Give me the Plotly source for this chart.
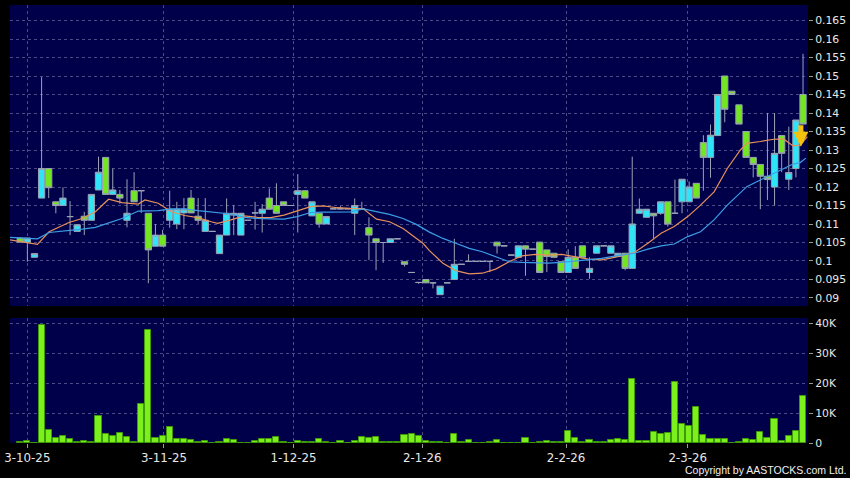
import plotly.graph_objects as go

# ---------------- data ----------------
idx = list(range(111))

opens = [0.1062, 0.1051, 0.1010, 0.1170, 0.1250, 0.1160, 0.1150, 0.1120, 0.1080, 0.1121,
         0.1110, 0.1192, 0.1280, 0.1180, 0.1180, 0.1110, 0.1190, 0.1190, 0.1129, 0.1040,
         0.1070, 0.1110, 0.1100, 0.1130, 0.1170, 0.1121, 0.1080, 0.1080, 0.1020, 0.1070,
         0.1124, 0.1070, 0.1110, 0.1130, 0.1129, 0.1170, 0.1150, 0.1160, 0.1150, 0.1180,
         0.1190, 0.1122, 0.1129, 0.1100, 0.1141, 0.1141, 0.1141, 0.1129, 0.1141, 0.1090,
         0.1060, 0.1050, 0.1050, 0.1060, 0.0998, 0.0969, 0.0942, 0.0950, 0.0941, 0.0909,
         0.0941, 0.0950, 0.0991, 0.0999, 0.0999, 0.0999, 0.0999, 0.1051, 0.1041, 0.1016,
         0.1010, 0.1041, 0.1032, 0.1051, 0.1030, 0.1021, 0.0998, 0.0969, 0.1010, 0.1041,
         0.0969, 0.1021, 0.1041, 0.1021, 0.1012, 0.1021, 0.0980, 0.1129, 0.1118, 0.1129,
         0.1129, 0.1160, 0.1129, 0.1160, 0.1160, 0.1210, 0.1320, 0.1280, 0.1339, 0.1500,
         0.1459, 0.1422, 0.1350, 0.1280, 0.1261, 0.1229, 0.1200, 0.1339, 0.1221, 0.1250,
         0.1450]
highs = [0.1062, 0.1062, 0.1020, 0.1497, 0.1250, 0.1160, 0.1199, 0.1162, 0.1098, 0.1133,
         0.1180, 0.1282, 0.1280, 0.1250, 0.1192, 0.1221, 0.1240, 0.1190, 0.1129, 0.1100,
         0.1084, 0.1190, 0.1160, 0.1170, 0.1192, 0.1170, 0.1170, 0.1080, 0.1070, 0.1169,
         0.1151, 0.1129, 0.1110, 0.1160, 0.1154, 0.1196, 0.1210, 0.1160, 0.1150, 0.1235,
         0.1190, 0.1160, 0.1129, 0.1120, 0.1141, 0.1148, 0.1141, 0.1169, 0.1160, 0.1118,
         0.1060, 0.1050, 0.1060, 0.1060, 0.0998, 0.0969, 0.0942, 0.0950, 0.0941, 0.0932,
         0.0941, 0.1060, 0.0991, 0.1018, 0.0999, 0.0999, 0.0999, 0.1051, 0.1041, 0.1016,
         0.1041, 0.1041, 0.1032, 0.1052, 0.1030, 0.1021, 0.0998, 0.1032, 0.1040, 0.1041,
         0.1010, 0.1041, 0.1041, 0.1041, 0.1021, 0.1021, 0.1282, 0.1169, 0.1140, 0.1129,
         0.1160, 0.1160, 0.1220, 0.1221, 0.1215, 0.1210, 0.1340, 0.1369, 0.1450, 0.1500,
         0.1459, 0.1422, 0.1350, 0.1280, 0.1261, 0.1400, 0.1400, 0.1339, 0.1363, 0.1381,
         0.1560]
lows = [0.1051, 0.0998, 0.1010, 0.1170, 0.1170, 0.1129, 0.1150, 0.1070, 0.1080, 0.1070,
        0.1110, 0.1192, 0.1180, 0.1180, 0.1155, 0.1091, 0.1160, 0.1130, 0.0940, 0.1040,
        0.1040, 0.1090, 0.1086, 0.1086, 0.1130, 0.1100, 0.1080, 0.1080, 0.1020, 0.1070,
        0.1070, 0.1070, 0.1110, 0.1085, 0.1077, 0.1140, 0.1129, 0.1150, 0.1150, 0.1077,
        0.1170, 0.1122, 0.1090, 0.1100, 0.1141, 0.1141, 0.1141, 0.1070, 0.1141, 0.1003,
        0.0975, 0.0995, 0.1050, 0.1060, 0.0985, 0.0969, 0.0938, 0.0941, 0.0926, 0.0909,
        0.0941, 0.0950, 0.0991, 0.0999, 0.0999, 0.0999, 0.0970, 0.1020, 0.1041, 0.1016,
        0.1010, 0.0960, 0.1032, 0.0969, 0.0970, 0.1010, 0.0969, 0.0969, 0.0980, 0.1010,
        0.0952, 0.1021, 0.1041, 0.1021, 0.1012, 0.0975, 0.0980, 0.1129, 0.1118, 0.1061,
        0.1125, 0.1093, 0.1129, 0.1129, 0.1160, 0.1170, 0.1190, 0.1225, 0.1339, 0.1375,
        0.1450, 0.1370, 0.1280, 0.1226, 0.1140, 0.1165, 0.1150, 0.1240, 0.1192, 0.1226,
        0.1370]
closes = [0.1051, 0.1062, 0.1020, 0.1250, 0.1198, 0.1150, 0.1170, 0.1120, 0.1098, 0.1110,
          0.1180, 0.1240, 0.1180, 0.1192, 0.1170, 0.1129, 0.1160, 0.1190, 0.1030, 0.1070,
          0.1040, 0.1140, 0.1140, 0.1140, 0.1130, 0.1110, 0.1110, 0.1080, 0.1070, 0.1129,
          0.1129, 0.1129, 0.1110, 0.1130, 0.1140, 0.1140, 0.1129, 0.1150, 0.1150, 0.1190,
          0.1170, 0.1160, 0.1100, 0.1120, 0.1141, 0.1141, 0.1141, 0.1150, 0.1141, 0.1070,
          0.1050, 0.1050, 0.1060, 0.1060, 0.0991, 0.0969, 0.0942, 0.0941, 0.0941, 0.0932,
          0.0941, 0.0991, 0.0991, 0.0999, 0.0999, 0.0999, 0.0999, 0.1041, 0.1041, 0.1016,
          0.1041, 0.1032, 0.1032, 0.0969, 0.1012, 0.1010, 0.0969, 0.1010, 0.0980, 0.1010,
          0.0980, 0.1041, 0.1041, 0.1041, 0.1021, 0.0980, 0.1100, 0.1140, 0.1140, 0.1122,
          0.1160, 0.1100, 0.1129, 0.1221, 0.1200, 0.1170, 0.1280, 0.1340, 0.1450, 0.1410,
          0.1450, 0.1370, 0.1280, 0.1261, 0.1229, 0.1220, 0.1291, 0.1291, 0.1239, 0.1381,
          0.1370]

volume_k = [0.3, 0.7, 0.0, 39.4, 4.4, 1.7, 2.2, 1.3, 0.4, 0.8,
            0.4, 8.9, 2.9, 2.2, 3.3, 2.0, 0.4, 13.0, 37.7, 1.7,
            2.4, 5.3, 1.3, 1.4, 1.0, 0.3, 0.8, 0.1, 0.4, 1.2,
            1.1, 0.1, 0.0, 0.8, 1.4, 1.3, 2.1, 0.4, 0.1, 0.7,
            0.2, 0.3, 1.4, 0.2, 0.0, 0.8, 0.0, 0.8, 2.0, 1.7,
            2.1, 0.3, 0.3, 0.4, 2.6, 3.0, 2.3, 0.6, 0.3, 0.2,
            0.0, 3.1, 0.4, 1.1, 0.1, 0.0, 0.4, 0.9, 0.0, 0.0,
            0.1, 1.8, 0.0, 0.2, 0.7, 0.4, 0.4, 4.0, 1.7, 0.4,
            1.0, 0.3, 0.4, 1.0, 1.4, 1.1, 21.3, 0.8, 0.7, 3.7,
            3.1, 3.2, 20.4, 6.4, 5.6, 12.1, 2.6, 1.2, 1.2, 1.3,
            0.1, 0.4, 1.4, 0.9, 3.8, 1.6, 8.0, 0.7, 2.3, 4.1,
            15.7]

ma_fast_x = [-1.44, 2.42, 4.05, 6.84, 8.7, 10.56, 12.42, 14.28, 16.6, 17.53,
             19.39, 21.25, 23.1, 24.97, 26.83, 27.75, 29.6, 31.5, 33.3, 35.2,
             37.06, 38.9, 40.8, 42.6, 44.5, 46.4, 48.2, 50.07, 51.9, 53.8,
             55.65, 56.58, 57.5, 59.4, 61.2, 63.1, 64.95, 66.8, 68.7, 70.5,
             72.4, 74.25, 76.1, 78.0, 79.8, 81.7, 83.5, 86.3, 88.2, 90.06,
             91.9, 93.8, 95.6, 97.5, 99.36, 101.2, 102.1, 104.0, 105.9, 107.25,
             108.6, 109.6, 110.6]
ma_fast = [0.1057, 0.1045, 0.1079, 0.1104, 0.1115, 0.1133, 0.1167, 0.1158, 0.1154, 0.1165,
           0.1156, 0.1133, 0.1123, 0.1117, 0.1106, 0.1102, 0.1111, 0.1122, 0.1118, 0.1117,
           0.1124, 0.1136, 0.1147, 0.1149, 0.1144, 0.1142, 0.1141, 0.1113, 0.1106, 0.1088,
           0.1063, 0.1048, 0.1028, 0.0994, 0.0974, 0.0965, 0.0967, 0.0978, 0.0998, 0.1014,
           0.1018, 0.1016, 0.1018, 0.1012, 0.1005, 0.1003, 0.1010, 0.1023, 0.1048, 0.1075,
           0.1093, 0.1120, 0.1151, 0.1187, 0.1250, 0.1300, 0.1318, 0.1323, 0.1329, 0.1330,
           0.1311, 0.1313, 0.1336]

ma_slow_x = [-1.44, 2.42, 4.05, 6.84, 8.7, 10.56, 12.42, 14.28, 16.6, 17.53,
             19.39, 21.25, 23.1, 24.97, 26.83, 27.75, 29.6, 31.5, 33.3, 35.2,
             37.06, 38.9, 40.8, 42.6, 44.5, 46.4, 48.2, 50.07, 51.9, 53.8,
             55.65, 57.5, 59.4, 61.2, 63.1, 64.95, 66.8, 68.7, 70.5, 72.4,
             74.25, 76.1, 78.0, 79.8, 81.7, 83.5, 86.3, 88.2, 90.06, 91.9,
             93.8, 95.6, 97.5, 99.36, 101.2, 102.1, 104.0, 105.9, 107.25, 108.6,
             109.6, 110.4]
ma_slow = [0.1064, 0.1060, 0.1077, 0.1082, 0.1086, 0.1091, 0.1104, 0.1115, 0.1135, 0.1136,
           0.1136, 0.1141, 0.1141, 0.1136, 0.1133, 0.1132, 0.1127, 0.1118, 0.1115, 0.1114,
           0.1113, 0.1120, 0.1131, 0.1132, 0.1132, 0.1133, 0.1141, 0.1133, 0.1126, 0.1115,
           0.1099, 0.1078, 0.1061, 0.1048, 0.1034, 0.1025, 0.1012, 0.0998, 0.0996, 0.0994,
           0.0994, 0.0996, 0.1000, 0.1003, 0.1007, 0.1013, 0.1021, 0.1032, 0.1041, 0.1046,
           0.1066, 0.1079, 0.1111, 0.1151, 0.1183, 0.1201, 0.1219, 0.1237, 0.1248, 0.1262,
           0.1266, 0.1278]

date_ticks = [1.0, 20.2, 38.4, 56.5, 76.7, 93.8]
date_labels = ["3-10-25", "3-11-25", "1-12-25", "2-1-26", "2-2-26", "2-3-26"]

price_ticks = [0.09, 0.095, 0.1, 0.105, 0.11, 0.115, 0.12, 0.125, 0.13, 0.135,
               0.14, 0.145, 0.15, 0.155, 0.16, 0.165]
price_labels = ["0.09", "0.095", "0.1", "0.105", "0.11", "0.115", "0.12", "0.125", "0.13", "0.135",
                "0.14", "0.145", "0.15", "0.155", "0.16", "0.165"]

vol_ticks = [0, 10000, 20000, 30000, 40000]
vol_labels = ["0", "10K", "20K", "30K", "40K"]

arrow_x = [109.7]
arrow_y = [0.1309]

# ---------------- style ----------------
NAVY = "#00004a"
GRID = "#4a4a86"
CYAN = "#30e4f8"
GREEN = "#72e61e"
WICK = "#9aa2b4"
ORANGE = "#e8915a"
BLUE = "#3c9fe6"
VOL = "#7cf01c"
TXT = "#e8e8e8"

fig = go.Figure()

fig.add_trace(go.Candlestick(
    x=idx, open=opens, high=highs, low=lows, close=closes,
    increasing=dict(fillcolor=CYAN, line=dict(color=WICK, width=1)),
    decreasing=dict(fillcolor=GREEN, line=dict(color=WICK, width=1)),
    whiskerwidth=0, xaxis="x", yaxis="y", showlegend=False, hoverinfo="skip"))

fig.add_trace(go.Scatter(x=ma_fast_x, y=ma_fast, mode="lines",
                         line=dict(color=ORANGE, width=1.2), xaxis="x", yaxis="y",
                         showlegend=False, hoverinfo="skip"))
fig.add_trace(go.Scatter(x=ma_slow_x, y=ma_slow, mode="lines",
                         line=dict(color=BLUE, width=1.2), xaxis="x", yaxis="y",
                         showlegend=False, hoverinfo="skip"))

fig.add_trace(go.Bar(x=idx, y=[v * 1000 for v in volume_k], xaxis="x2", yaxis="y2",
                     width=0.86, marker=dict(color=VOL, line=dict(color="#3f9a0a", width=1)),
                     showlegend=False, hoverinfo="skip"))

grid_common = dict(showgrid=True, gridcolor=GRID, griddash="3px,3px", gridwidth=1,
                   zeroline=False, showline=False)

fig.update_layout(
    width=850, height=478,
    margin=dict(l=4, r=42, t=5, b=35),
    paper_bgcolor="#000000", plot_bgcolor=NAVY,
    showlegend=False,
    boxgap=0.12, boxgroupgap=0, bargap=0,
    xaxis=dict(domain=[0, 1], anchor="y", range=[-1.44, 110.7],
               tickvals=date_ticks, showticklabels=False, ticks="",
               rangeslider=dict(visible=False), **grid_common),
    yaxis=dict(domain=[0.3128, 1], anchor="x", side="right",
               range=[0.087838, 0.169189], tickvals=price_ticks, ticktext=price_labels,
               ticks="outside", ticklen=4, tickcolor="#9a9a9a", ticklabeloverflow="allow",
               tickfont=dict(family="DejaVu Sans", size=10.8, color=TXT), **grid_common),
    xaxis2=dict(domain=[0, 1], anchor="y2", matches="x", range=[-1.44, 110.7],
                tickvals=date_ticks, ticktext=date_labels, ticklabeloverflow="allow",
                ticks="outside", ticklen=4, tickcolor="#9a9a9a",
                tickfont=dict(family="DejaVu Sans", size=11.8, color=TXT), **grid_common),
    yaxis2=dict(domain=[0, 0.2854], anchor="x2", side="right",
                range=[0, 41770], tickvals=vol_ticks, ticktext=vol_labels,
                ticks="outside", ticklen=4, tickcolor="#9a9a9a", ticklabeloverflow="allow",
                tickfont=dict(family="DejaVu Sans", size=10.8, color=TXT), **grid_common),
)

fig.add_annotation(x=arrow_x[0], y=arrow_y[0], xref="x", yref="y",
                   ax=0, ay=-23, showarrow=True, arrowhead=2, arrowsize=0.6,
                   arrowwidth=5, arrowcolor="#f4c20d", text="")

fig.add_annotation(x=1.0498, y=-0.062, xref="paper", yref="paper",
                   xanchor="right", yanchor="middle", showarrow=False,
                   text="Copyright by AASTOCKS.com Ltd.",
                   font=dict(family="Liberation Sans", size=10.5, color="#f0f0f0"))

fig.write_html("out.html",
               config={"displayModeBar": False},
               post_script="document.body.style.margin='0';document.body.style.overflow='hidden';")
